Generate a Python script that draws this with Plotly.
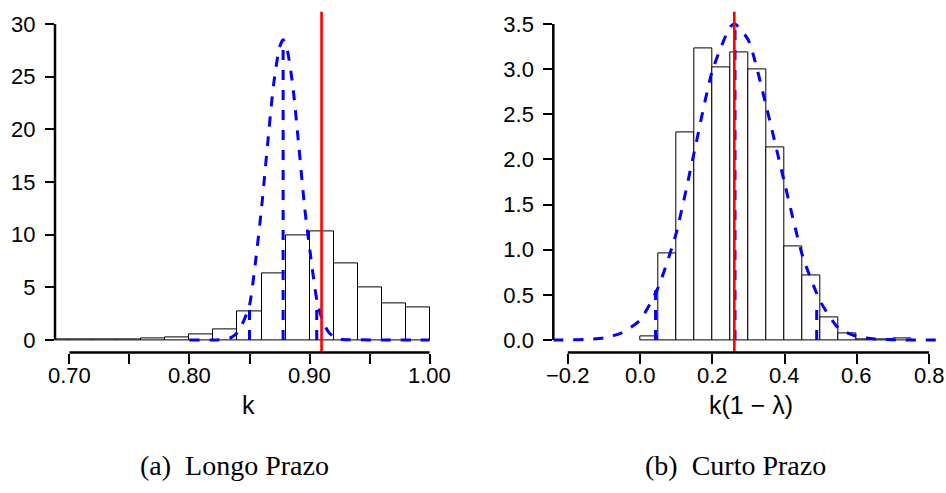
import plotly.graph_objects as go

# ---------------- data ----------------
# (a) Longo Prazo: posterior histogram of k (density scale, bin width 0.02)
k_bin_left = [0.68, 0.70, 0.72, 0.74, 0.76, 0.78, 0.80, 0.82, 0.84, 0.86,
              0.88, 0.90, 0.92, 0.94, 0.96, 0.98]
k_density = [0.02, 0.03, 0.01, 0.04, 0.16, 0.28, 0.54, 1.01, 2.72, 6.33,
             9.97, 10.29, 7.25, 5.03, 3.45, 3.07]
k_bin_width = 0.02
k_reference = 0.91

# prior density curve for k
k_prior_x = [0.80, 0.82, 0.83, 0.835, 0.84, 0.845, 0.85, 0.855, 0.86, 0.865,
             0.87, 0.875, 0.878, 0.881, 0.886, 0.891, 0.896, 0.901, 0.906,
             0.911, 0.916, 0.921, 0.926, 0.93, 1.00]
k_prior_y = [0.0, 0.0, 0.08, 0.25, 0.72, 1.77, 3.3, 7.4, 12.5, 18.5,
             24.2, 27.8, 28.5, 27.8, 24.2, 18.5, 12.5, 7.9, 3.86,
             1.77, 0.72, 0.25, 0.08, 0.03, 0.0]
# prior quantiles (2.5%, 50%, 97.5%) and the curve height at each
k_prior_q = [0.850, 0.878, 0.906]
k_prior_q_h = [3.3, 28.5, 3.86]

# (b) Curto Prazo: posterior histogram of k(1 - lambda) (bin width 0.05)
s_bin_left = [0.00, 0.05, 0.10, 0.15, 0.20, 0.25, 0.30, 0.35, 0.40, 0.45,
              0.50, 0.55, 0.60, 0.65, 0.70]
s_density = [0.04, 0.96, 2.30, 3.23, 3.02, 3.19, 3.00, 2.13, 1.04, 0.71,
             0.25, 0.074, 0.01, 0.01, 0.02]
s_bin_width = 0.05
s_reference = 0.261

s_prior_x = [-0.24, -0.20, -0.15, -0.10, -0.05, 0.00, 0.05, 0.10, 0.15, 0.20,
             0.25, 0.263, 0.30, 0.35, 0.40, 0.45, 0.50, 0.55, 0.60, 0.65,
             0.70, 0.84]
s_prior_y = [0.0, 0.001, 0.005, 0.022, 0.08, 0.22, 0.58, 1.18, 2.08, 2.98,
             3.47, 3.50, 3.32, 2.58, 1.74, 0.93, 0.42, 0.13, 0.04, 0.011,
             0.002, 0.0]
s_prior_q = [0.043, 0.263, 0.489]
s_prior_q_h = [0.55, 3.50, 0.44]

# tick positions and labels
k_ticks = [0.70, 0.75, 0.80, 0.85, 0.90, 0.95, 1.00]
k_ticktext = ["0.70", "", "0.80", "", "0.90", "", "1.00"]
ka_yticks = [0, 5, 10, 15, 20, 25, 30]
s_ticks = [-0.2, 0.0, 0.2, 0.4, 0.6, 0.8]
s_ticktext = ["\u22120.2", "0.0", "0.2", "0.4", "0.6", "0.8"]
s_yticks = [0.0, 0.5, 1.0, 1.5, 2.0, 2.5, 3.0, 3.5]
s_yticktext = ["0.0", "0.5", "1.0", "1.5", "2.0", "2.5", "3.0", "3.5"]

# ---------------- layout geometry ----------------
W, H = 946, 493
x_dom_a = [55 / W, 444 / W]
x_dom_b = [553.3 / W, 943.5 / W]
y_dom = [1 - 352.6 / H, 1 - 11.4 / H]
x_rng_a = [0.688, 1.012]
y_rng_a = [-1.2, 31.2]
x_rng_b = [-0.24, 0.84]
y_rng_b = [-0.14, 3.64]
xlabel_y = 1 - 375 / H

BLUE = "#0000FF"
RED = "#FF0000"
TICK_FONT = dict(family="Liberation Sans, Arial, sans-serif", size=22, color="black")
TITLE_FONT = dict(family="Liberation Sans, Arial, sans-serif", size=25, color="black")
CAP_FONT = dict(family="Liberation Serif, Times New Roman, serif", size=28, color="black")


def to_paper(v, dom, rng):
    return dom[0] + (v - rng[0]) / (rng[1] - rng[0]) * (dom[1] - dom[0])


fig = go.Figure()


def add_panel(xa, ya, bin_left, dens, bw, px_, py_, qs, qh, ref, yr):
    centers = [b + bw / 2 for b in bin_left]
    fig.add_trace(go.Bar(
        x=centers, y=dens, width=bw, xaxis=xa, yaxis=ya,
        marker=dict(color="white", line=dict(color="black", width=1)),
        showlegend=False, hoverinfo="skip"))
    fig.add_trace(go.Scatter(
        x=px_, y=py_, mode="lines", xaxis=xa, yaxis=ya,
        line=dict(color=BLUE, width=3, dash="10px,10px", shape="spline", smoothing=0.6),
        showlegend=False, hoverinfo="skip"))
    for q, h in zip(qs, qh):
        fig.add_trace(go.Scatter(
            x=[q, q], y=[0, h], mode="lines", xaxis=xa, yaxis=ya,
            line=dict(color=BLUE, width=3, dash="10px,10px"),
            showlegend=False, hoverinfo="skip"))
    fig.add_trace(go.Scatter(
        x=[ref, ref], y=yr, mode="lines", xaxis=xa, yaxis=ya,
        line=dict(color=RED, width=2.6),
        showlegend=False, hoverinfo="skip"))


add_panel("x", "y", k_bin_left, k_density, k_bin_width, k_prior_x, k_prior_y,
          k_prior_q, k_prior_q_h, k_reference, y_rng_a)
add_panel("x2", "y2", s_bin_left, s_density, s_bin_width, s_prior_x, s_prior_y,
          s_prior_q, s_prior_q_h, s_reference, y_rng_b)

axis_common = dict(showgrid=False, zeroline=False, showline=False,
                   ticks="outside", tickwidth=2.2, tickcolor="black",
                   tickfont=TICK_FONT, fixedrange=True)

fig.update_layout(
    width=W, height=H, margin=dict(l=0, r=0, t=0, b=0),
    paper_bgcolor="white", plot_bgcolor="white", bargap=0,
    xaxis=dict(domain=x_dom_a, range=x_rng_a, anchor="y", ticklen=10,
               tickvals=k_ticks, showticklabels=False, **axis_common),
    yaxis=dict(domain=y_dom, range=y_rng_a, anchor="x", ticklen=9,
               tickvals=ka_yticks, ticklabelstandoff=5, **axis_common),
    xaxis2=dict(domain=x_dom_b, range=x_rng_b, anchor="y2", ticklen=10,
                tickvals=s_ticks, showticklabels=False, **axis_common),
    yaxis2=dict(domain=y_dom, range=y_rng_b, anchor="x2", ticklen=9,
                tickvals=s_yticks, ticktext=s_yticktext, ticklabelstandoff=5, **axis_common),
)

# axis lines spanning only the labelled tick range
line_style = dict(color="black", width=2.5)
shapes = [
    dict(type="line", xref="paper", yref="paper",
         x0=x_dom_a[0], x1=x_dom_a[0],
         y0=to_paper(ka_yticks[0], y_dom, y_rng_a), y1=to_paper(ka_yticks[-1], y_dom, y_rng_a),
         line=line_style),
    dict(type="line", xref="paper", yref="paper",
         x0=to_paper(k_ticks[0], x_dom_a, x_rng_a), x1=to_paper(k_ticks[-1], x_dom_a, x_rng_a),
         y0=y_dom[0], y1=y_dom[0], line=line_style),
    dict(type="line", xref="paper", yref="paper",
         x0=x_dom_b[0], x1=x_dom_b[0],
         y0=to_paper(s_yticks[0], y_dom, y_rng_b), y1=to_paper(s_yticks[-1], y_dom, y_rng_b),
         line=line_style),
    dict(type="line", xref="paper", yref="paper",
         x0=to_paper(s_ticks[0], x_dom_b, x_rng_b), x1=to_paper(s_ticks[-1], x_dom_b, x_rng_b),
         y0=y_dom[0], y1=y_dom[0], line=line_style),
]
fig.update_layout(shapes=shapes)

annotations = []
# x tick labels, placed on the axes' own scales
for xref, vals, texts in (("x", k_ticks, k_ticktext), ("x2", s_ticks, s_ticktext)):
    for v, t in zip(vals, texts):
        if t:
            annotations.append(dict(text=t, x=v, xref=xref, y=xlabel_y, yref="paper",
                                    showarrow=False, font=TICK_FONT,
                                    xanchor="center", yanchor="middle"))

annotations += [
    dict(text="k", x=249 / W, y=1 - 405 / H, xref="paper", yref="paper",
         showarrow=False, font=TITLE_FONT, xanchor="center", yanchor="middle"),
    dict(text="k(1 \u2212 \u03bb)", x=751 / W, y=1 - 405 / H, xref="paper", yref="paper",
         showarrow=False, font=TITLE_FONT, xanchor="center", yanchor="middle"),
    dict(text="(a)  Longo Prazo", x=234 / W, y=1 - 465 / H, xref="paper", yref="paper",
         showarrow=False, font=CAP_FONT, xanchor="center", yanchor="middle"),
    dict(text="(b)  Curto Prazo", x=735 / W, y=1 - 465 / H, xref="paper", yref="paper",
         showarrow=False, font=CAP_FONT, xanchor="center", yanchor="middle"),
]
fig.update_layout(annotations=annotations)

fig.write_html("out.html")
